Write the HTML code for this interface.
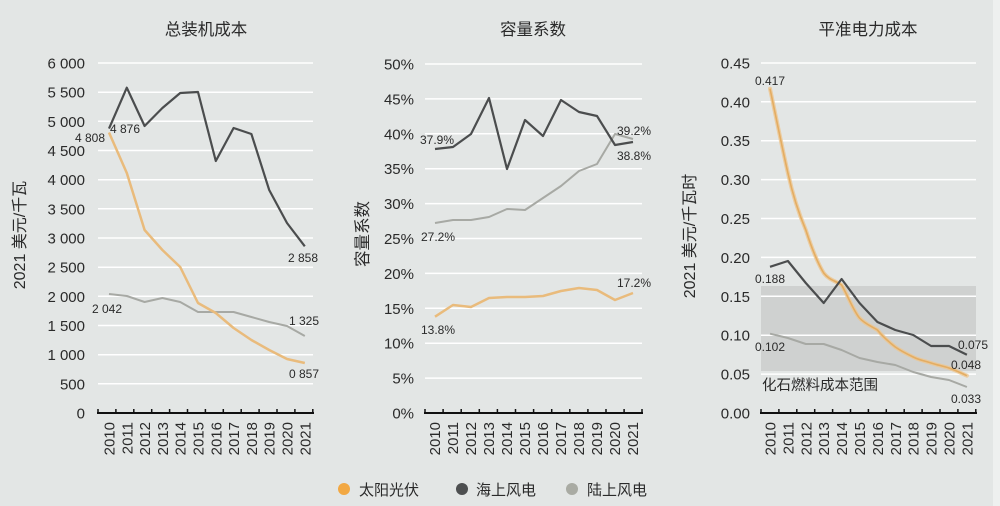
<!DOCTYPE html>
<html><head><meta charset="utf-8"><style>
html,body{margin:0;padding:0;background:#e3e6e5;}
svg{display:block;}
text{font-family:"Liberation Sans","Noto Sans CJK SC",sans-serif;fill:#2a2a2a;}
.cjk{font-family:"Noto Sans CJK SC","WenQuanYi Zen Hei",sans-serif;}
.tk{font-size:15px;text-anchor:end;}
.dl{font-size:12px;}
.xl{font-size:15px;text-anchor:end;}
.g{stroke:#fff;stroke-width:1.5;}
</style></head><body>
<svg width="1000" height="506" viewBox="0 0 1000 506" xmlns="http://www.w3.org/2000/svg">
<rect x="0" y="0" width="1000" height="506" fill="#e3e6e5"/>
<rect x="993" y="0" width="7" height="506" fill="#eef0ef"/>

<!-- Titles -->
<text class="cjk" x="206" y="35" font-size="16.5" text-anchor="middle">总装机成本</text>
<text class="cjk" x="533" y="35" font-size="16.5" text-anchor="middle">容量系数</text>
<text class="cjk" x="868" y="35" font-size="16.5" text-anchor="middle">平准电力成本</text>

<!-- Y axis titles -->
<text transform="translate(25,235) rotate(-90)" font-size="16" text-anchor="middle" fill="#333">2021 美元/千瓦</text>
<text class="cjk" transform="translate(368,234) rotate(-90)" font-size="16.5" text-anchor="middle">容量系数</text>
<text transform="translate(695,236) rotate(-90)" font-size="16" text-anchor="middle">2021 美元/千瓦时</text>

<!-- ============ LEFT CHART ============ -->
<g>
<line class="g" x1="98" x2="313" y1="383.8" y2="383.8"/>
<line class="g" x1="98" x2="313" y1="354.7" y2="354.7"/>
<line class="g" x1="98" x2="313" y1="325.5" y2="325.5"/>
<line class="g" x1="98" x2="313" y1="296.3" y2="296.3"/>
<line class="g" x1="98" x2="313" y1="267.2" y2="267.2"/>
<line class="g" x1="98" x2="313" y1="238" y2="238"/>
<line class="g" x1="98" x2="313" y1="208.8" y2="208.8"/>
<line class="g" x1="98" x2="313" y1="179.7" y2="179.7"/>
<line class="g" x1="98" x2="313" y1="150.5" y2="150.5"/>
<line class="g" x1="98" x2="313" y1="121.3" y2="121.3"/>
<line class="g" x1="98" x2="313" y1="92.2" y2="92.2"/>
<line class="g" x1="98" x2="313" y1="63" y2="63"/>
<text class="tk" x="85" y="418.5">0</text>
<text class="tk" x="85" y="389.3">500</text>
<text class="tk" x="85" y="360.2">1 000</text>
<text class="tk" x="85" y="331">1 500</text>
<text class="tk" x="85" y="301.8">2 000</text>
<text class="tk" x="85" y="272.7">2 500</text>
<text class="tk" x="85" y="243.5">3 000</text>
<text class="tk" x="85" y="214.3">3 500</text>
<text class="tk" x="85" y="185.2">4 000</text>
<text class="tk" x="85" y="156">4 500</text>
<text class="tk" x="85" y="126.8">5 000</text>
<text class="tk" x="85" y="97.7">5 500</text>
<text class="tk" x="85" y="68.5">6 000</text>

<polyline fill="none" stroke="#a7a9a4" stroke-width="2" stroke-linejoin="round" points="109,294 126.8,296 144.6,302 162.4,298 180.2,302 198,312 215.8,312 233.6,312 251.4,317 269.2,322 287,326 304.8,336"/>
<polyline fill="none" stroke="#e9bb7c" stroke-width="2.5" stroke-linejoin="round" points="109,132.5 126.8,173 144.6,230 162.4,250 180.2,267 198,303 215.8,313 233.6,328 251.4,340 269.2,350 287,359 304.8,363"/>
<polyline fill="none" stroke="#4b4d4e" stroke-width="2.2" stroke-linejoin="round" points="109,128.6 126.8,87.7 144.6,126 162.4,108 180.2,93 198,92 215.8,161 233.6,128 251.4,134 269.2,190 287,223 304.8,246.3"/>

<text class="dl" x="75" y="142">4 808</text>
<text class="dl" x="110" y="133">4 876</text>
<text class="dl" x="288" y="262">2 858</text>
<text class="dl" x="92" y="313">2 042</text>
<text class="dl" x="289" y="325">1 325</text>
<text class="dl" x="289" y="378">0 857</text>

<line x1="97" x2="314" y1="413" y2="413" stroke="#111" stroke-width="2"/>
<path stroke="#111" stroke-width="1.5" d="M98,409V413M115.9,409V413M133.8,409V413M151.7,409V413M169.6,409V413M187.5,409V413M205.4,409V413M223.3,409V413M241.2,409V413M259.1,409V413M277,409V413M294.9,409V413M312.8,409V413"/>
<text class="xl" transform="translate(114.5,422) rotate(-90)">2010</text>
<text class="xl" transform="translate(132.3,422) rotate(-90)">2011</text>
<text class="xl" transform="translate(150.1,422) rotate(-90)">2012</text>
<text class="xl" transform="translate(167.9,422) rotate(-90)">2013</text>
<text class="xl" transform="translate(185.7,422) rotate(-90)">2014</text>
<text class="xl" transform="translate(203.5,422) rotate(-90)">2015</text>
<text class="xl" transform="translate(221.3,422) rotate(-90)">2016</text>
<text class="xl" transform="translate(239.1,422) rotate(-90)">2017</text>
<text class="xl" transform="translate(256.9,422) rotate(-90)">2018</text>
<text class="xl" transform="translate(274.7,422) rotate(-90)">2019</text>
<text class="xl" transform="translate(292.5,422) rotate(-90)">2020</text>
<text class="xl" transform="translate(310.3,422) rotate(-90)">2021</text>
</g>

<!-- ============ MIDDLE CHART ============ -->
<g>
<line class="g" x1="425" x2="642" y1="378.1" y2="378.1"/>
<line class="g" x1="425" x2="642" y1="343.2" y2="343.2"/>
<line class="g" x1="425" x2="642" y1="308.3" y2="308.3"/>
<line class="g" x1="425" x2="642" y1="273.4" y2="273.4"/>
<line class="g" x1="425" x2="642" y1="238.5" y2="238.5"/>
<line class="g" x1="425" x2="642" y1="203.6" y2="203.6"/>
<line class="g" x1="425" x2="642" y1="168.7" y2="168.7"/>
<line class="g" x1="425" x2="642" y1="133.8" y2="133.8"/>
<line class="g" x1="425" x2="642" y1="98.9" y2="98.9"/>
<line class="g" x1="425" x2="642" y1="64" y2="64"/>
<text class="tk" x="414" y="418.5">0%</text>
<text class="tk" x="414" y="383.6">5%</text>
<text class="tk" x="414" y="348.7">10%</text>
<text class="tk" x="414" y="313.8">15%</text>
<text class="tk" x="414" y="278.9">20%</text>
<text class="tk" x="414" y="244">25%</text>
<text class="tk" x="414" y="209.1">30%</text>
<text class="tk" x="414" y="174.2">35%</text>
<text class="tk" x="414" y="139.3">40%</text>
<text class="tk" x="414" y="104.4">45%</text>
<text class="tk" x="414" y="69.5">50%</text>

<polyline fill="none" stroke="#a7a9a4" stroke-width="2" stroke-linejoin="round" points="435,223 453,220 471,220 489,217 507,209 525,210 543,198 561,186 579,171 597,164 615,134 633,139"/>
<polyline fill="none" stroke="#e9bb7c" stroke-width="2.5" stroke-linejoin="round" points="435,316.7 453,305 471,307 489,298 507,297 525,297 543,296 561,291 579,288 597,290 615,300 633,293"/>
<polyline fill="none" stroke="#4b4d4e" stroke-width="2.2" stroke-linejoin="round" points="435,149 453,147 471,134 489,98 507,169 525,120 543,136 561,100 579,112 597,116 615,145 633,142"/>

<text class="dl" x="420" y="144" font-size="11.5">37.9%</text>
<text class="dl" x="421" y="241" font-size="11.5">27.2%</text>
<text class="dl" x="617" y="135" font-size="11.5">39.2%</text>
<text class="dl" x="617" y="160" font-size="11.5">38.8%</text>
<text class="dl" x="421" y="334" font-size="11.5">13.8%</text>
<text class="dl" x="617" y="287" font-size="11.5">17.2%</text>

<line x1="424" x2="643" y1="413" y2="413" stroke="#111" stroke-width="2"/>
<path stroke="#111" stroke-width="1.5" d="M425,409V413M443.1,409V413M461.2,409V413M479.3,409V413M497.4,409V413M515.5,409V413M533.6,409V413M551.7,409V413M569.8,409V413M587.9,409V413M606,409V413M624.1,409V413M642,409V413"/>
<text class="xl" transform="translate(440,422) rotate(-90)">2010</text>
<text class="xl" transform="translate(458,422) rotate(-90)">2011</text>
<text class="xl" transform="translate(476,422) rotate(-90)">2012</text>
<text class="xl" transform="translate(494,422) rotate(-90)">2013</text>
<text class="xl" transform="translate(512,422) rotate(-90)">2014</text>
<text class="xl" transform="translate(530,422) rotate(-90)">2015</text>
<text class="xl" transform="translate(548,422) rotate(-90)">2016</text>
<text class="xl" transform="translate(566,422) rotate(-90)">2017</text>
<text class="xl" transform="translate(584,422) rotate(-90)">2018</text>
<text class="xl" transform="translate(602,422) rotate(-90)">2019</text>
<text class="xl" transform="translate(620,422) rotate(-90)">2020</text>
<text class="xl" transform="translate(638,422) rotate(-90)">2021</text>
</g>

<!-- ============ RIGHT CHART ============ -->
<g>
<rect x="761" y="286" width="215" height="85" fill="#cfd1d0"/>
<line class="g" x1="761" x2="976" y1="374.1" y2="374.1"/>
<line class="g" x1="761" x2="976" y1="335.2" y2="335.2"/>
<line class="g" x1="761" x2="976" y1="296.3" y2="296.3"/>
<line class="g" x1="761" x2="976" y1="257.4" y2="257.4"/>
<line class="g" x1="761" x2="976" y1="218.5" y2="218.5"/>
<line class="g" x1="761" x2="976" y1="179.6" y2="179.6"/>
<line class="g" x1="761" x2="976" y1="140.7" y2="140.7"/>
<line class="g" x1="761" x2="976" y1="101.8" y2="101.8"/>
<line class="g" x1="761" x2="976" y1="63" y2="63"/>
<text class="tk" x="750" y="418.5" font-size="16">0.00</text>
<text class="tk" x="750" y="379.6" font-size="16">0.05</text>
<text class="tk" x="750" y="340.7" font-size="16">0.10</text>
<text class="tk" x="750" y="301.8" font-size="16">0.15</text>
<text class="tk" x="750" y="262.9" font-size="16">0.20</text>
<text class="tk" x="750" y="224" font-size="16">0.25</text>
<text class="tk" x="750" y="185.1" font-size="16">0.30</text>
<text class="tk" x="750" y="146.2" font-size="16">0.35</text>
<text class="tk" x="750" y="107.3" font-size="16">0.40</text>
<text class="tk" x="750" y="68.5" font-size="16">0.45</text>

<polyline fill="none" stroke="#a7a9a4" stroke-width="2" stroke-linejoin="round" points="770,333.7 787.9,338 805.8,344 823.7,344 841.6,350 859.5,358 877.4,362 895.3,365 913.2,372 931.1,377 949,380 966.9,387"/>
<path fill="none" stroke="#ecc690" stroke-width="4" stroke-linejoin="round" stroke-linecap="round" opacity="0.8" d="M770,88.7 C776,117 782,147 787.9,173 C793,196 799,214 805.8,230 C811,246 817,262 823.7,273 C829,280 836,281 841.6,285 C848,296 853,310 859.5,318 C865,324 871,326 877.4,330 C883,337 889,342 895.3,347 C901,351 907,354 913.2,357 C919,360 925,361 931.1,363 C937,365 943,366 949,368 C955,370 961,373 966.9,375.7"/>
<path fill="none" stroke="#e4ad62" stroke-width="1.6" stroke-linejoin="round" d="M770,88.7 C776,117 782,147 787.9,173 C793,196 799,214 805.8,230 C811,246 817,262 823.7,273 C829,280 836,281 841.6,285 C848,296 853,310 859.5,318 C865,324 871,326 877.4,330 C883,337 889,342 895.3,347 C901,351 907,354 913.2,357 C919,360 925,361 931.1,363 C937,365 943,366 949,368 C955,370 961,373 966.9,375.7"/>
<polyline fill="none" stroke="#4b4d4e" stroke-width="2.2" stroke-linejoin="round" points="770,266.8 787.9,261 805.8,283 823.7,303 841.6,279 859.5,303 877.4,322 895.3,330 913.2,335 931.1,346 949,346 966.9,354.7"/>

<text class="dl" x="755" y="85" font-size="13">0.417</text>
<text class="dl" x="755" y="283" font-size="13">0.188</text>
<text class="dl" x="755" y="351" font-size="13">0.102</text>
<text class="dl" x="958" y="349" font-size="13">0.075</text>
<text class="dl" x="951" y="369" font-size="13">0.048</text>
<text class="dl" x="951" y="403" font-size="13">0.033</text>
<text class="cjk" x="762" y="390" font-size="14.5" fill="#333">化石燃料成本范围</text>

<line x1="760" x2="977" y1="413" y2="413" stroke="#111" stroke-width="2"/>
<path stroke="#111" stroke-width="1.5" d="M761,409V413M778.9,409V413M796.8,409V413M814.7,409V413M832.6,409V413M850.5,409V413M868.4,409V413M886.3,409V413M904.2,409V413M922.1,409V413M940,409V413M957.9,409V413M975.8,409V413"/>
<text class="xl" transform="translate(775.5,422) rotate(-90)">2010</text>
<text class="xl" transform="translate(793.4,422) rotate(-90)">2011</text>
<text class="xl" transform="translate(811.3,422) rotate(-90)">2012</text>
<text class="xl" transform="translate(829.2,422) rotate(-90)">2013</text>
<text class="xl" transform="translate(847.1,422) rotate(-90)">2014</text>
<text class="xl" transform="translate(865,422) rotate(-90)">2015</text>
<text class="xl" transform="translate(882.9,422) rotate(-90)">2016</text>
<text class="xl" transform="translate(900.8,422) rotate(-90)">2017</text>
<text class="xl" transform="translate(918.7,422) rotate(-90)">2018</text>
<text class="xl" transform="translate(936.6,422) rotate(-90)">2019</text>
<text class="xl" transform="translate(954.5,422) rotate(-90)">2020</text>
<text class="xl" transform="translate(972.4,422) rotate(-90)">2021</text>
</g>

<!-- Legend -->
<circle cx="344" cy="489" r="6" fill="#f2a843"/>
<text class="cjk" x="359" y="495" font-size="15" fill="#333">太阳光伏</text>
<circle cx="462" cy="489" r="6" fill="#4d4f50"/>
<text class="cjk" x="476" y="495" font-size="15" fill="#333">海上风电</text>
<circle cx="572" cy="489" r="6" fill="#a9aba3"/>
<text class="cjk" x="587" y="495" font-size="15" fill="#333">陆上风电</text>
</svg>
</body></html>
